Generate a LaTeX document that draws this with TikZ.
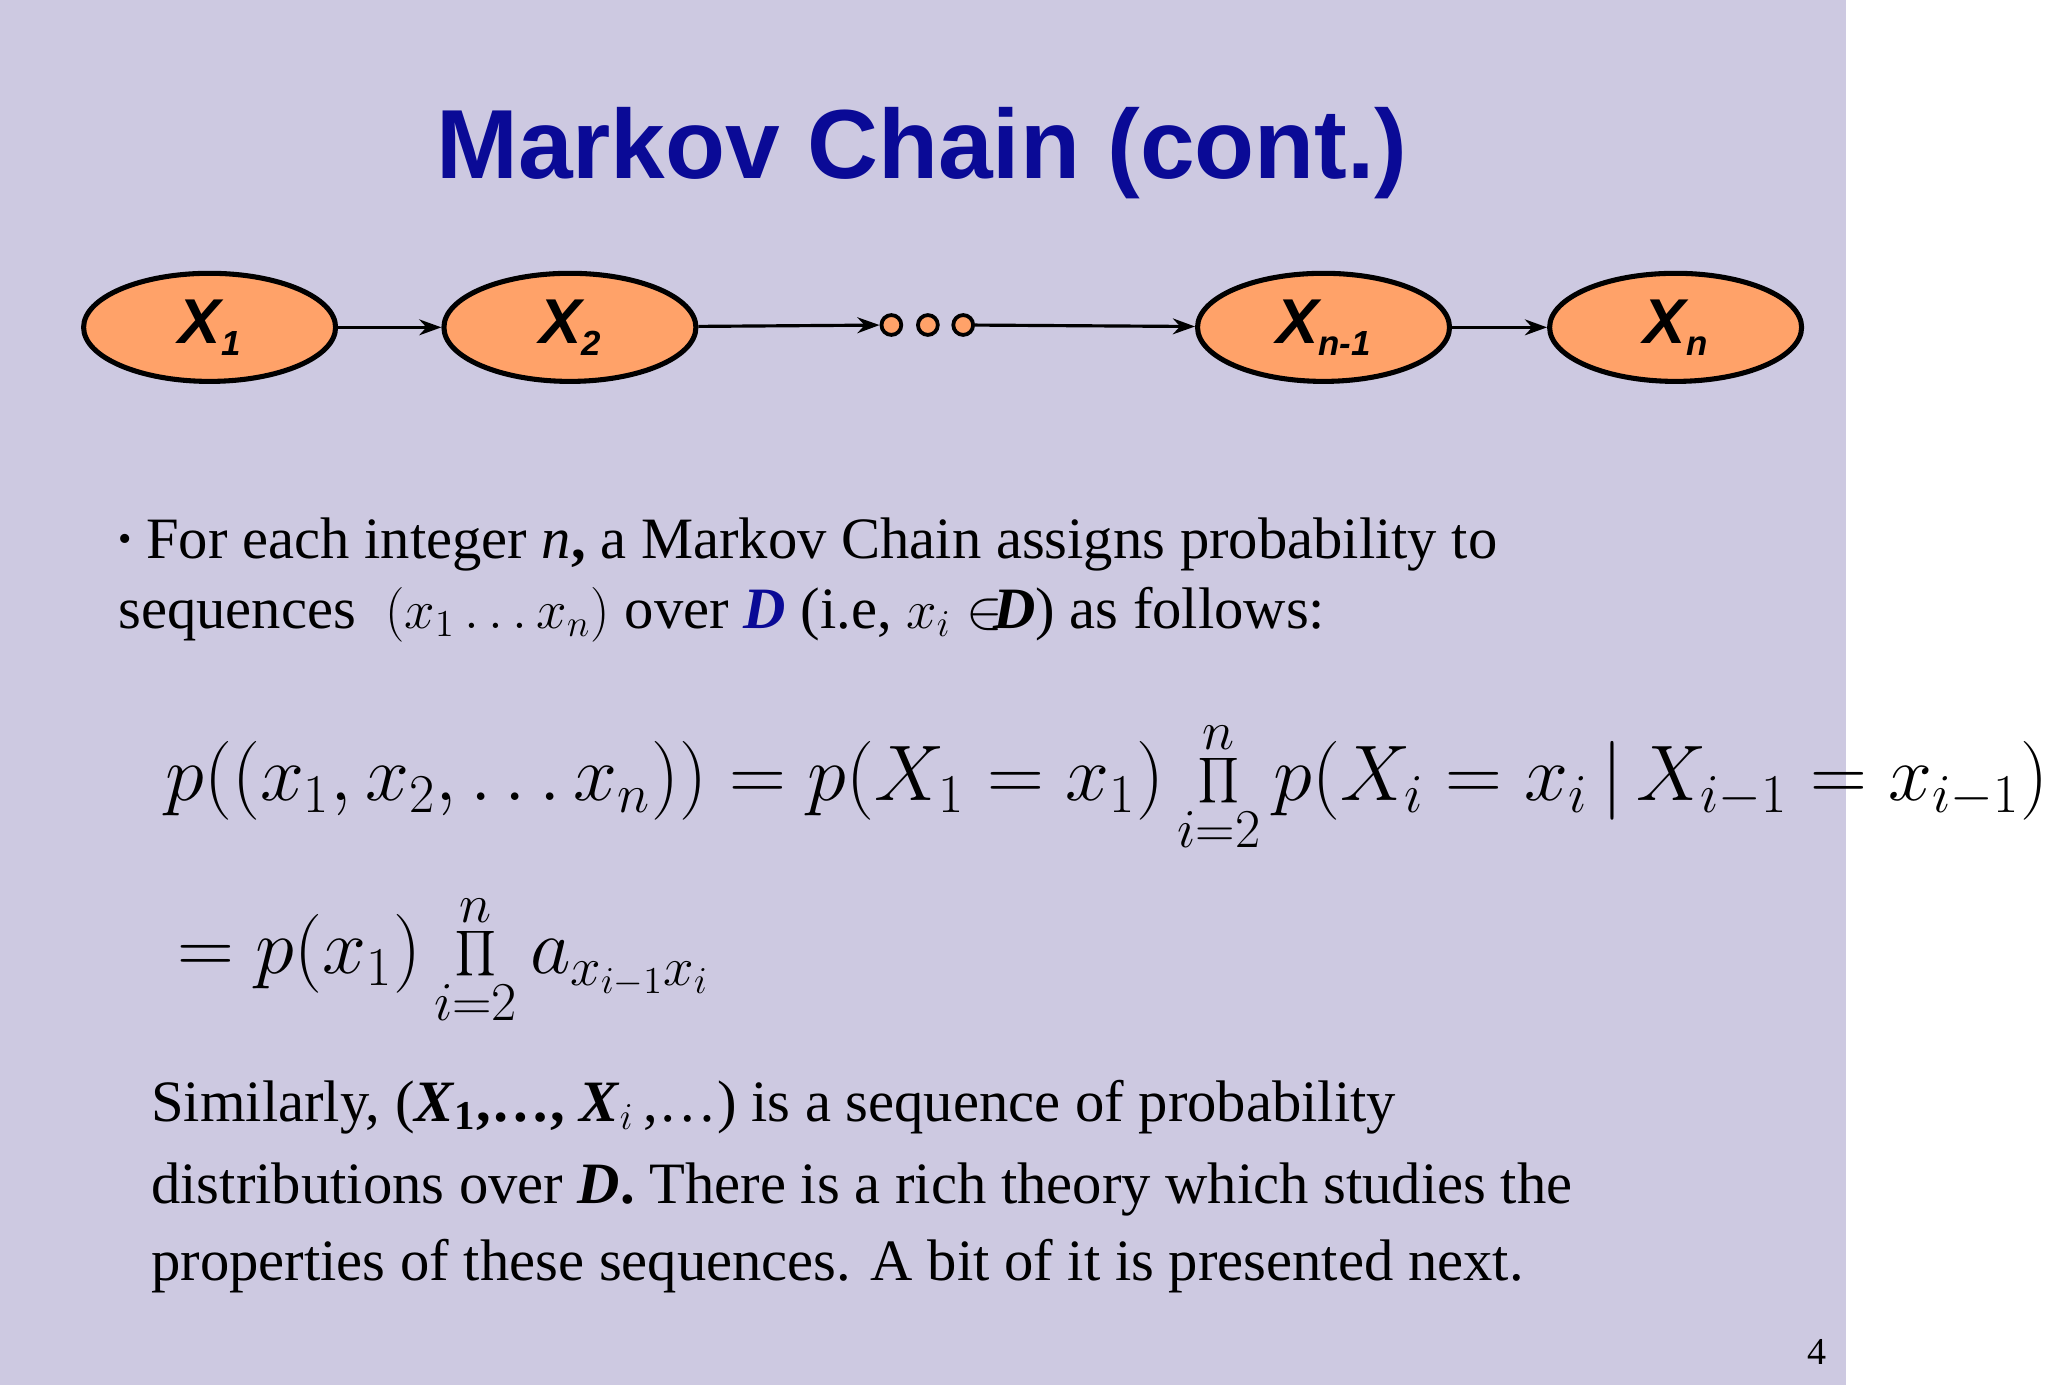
\documentclass[tikz,border=0pt]{standalone}
\usepackage{fontspec}
\setmainfont{Liberation Serif}
\newfontfamily\hsans{Liberation Sans}
\usetikzlibrary{shapes.geometric,arrows.meta}
\definecolor{bg}{RGB}{205,201,225}
\definecolor{ttl}{RGB}{10,10,150}
\definecolor{org}{RGB}{255,162,105}
\tikzset{
 st/.style={ellipse,draw=black,line width=1.6pt,fill=org,minimum width=214*0.013061cm,minimum height=90*0.013061cm,font=\hsans\bfseries\itshape\fontsize{20}{22}\selectfont},
 dt/.style={circle,draw=black,line width=1.2pt,fill=org,minimum size=0.22cm,inner sep=0pt},
 ar/.style={-{Stealth[length=7pt,width=5pt]},line width=1pt},
 txt/.style={anchor=west,inner sep=0pt,font=\fontsize{18.5}{22}\selectfont}
}
\begin{document}
\begin{tikzpicture}[x=0.013061cm,y=-0.013061cm]
\fill[bg] (0,0) rectangle (1568,1176);
\node[font=\hsans\bfseries\fontsize{31}{34}\selectfont,text=ttl] (title) at (783,130) {Markov Chain (cont.)};
\node[st] (a) at (178,278) {X\raisebox{-0.35ex}{\fontsize{11}{12}\selectfont 1}};
\node[st] (b) at (484,278) {X\raisebox{-0.35ex}{\fontsize{11}{12}\selectfont 2}};
\node[st] (c) at (1124,278) {X\raisebox{-0.35ex}{\fontsize{11}{12}\selectfont n-1}};
\node[st] (d) at (1423,278) {X\raisebox{-0.35ex}{\fontsize{11}{12}\selectfont n}};
\node[dt] (d1) at (757,276) {};
\node[dt] (d2) at (788,276) {};
\node[dt] (d3) at (818,276) {};
\draw[ar] (a) -- (b);
\draw[ar] (b) -- (d1);
\draw[ar] (d3) -- (c);
\draw[ar] (c) -- (d);
\node[txt] (l1) at (100,462) {\raisebox{0.25ex}{\fontsize{12}{12}\selectfont\textbullet}\ For each integer \textit{n}\textbf{,} a Markov Chain assigns probability to};
\node[txt] (l2) at (100,522) {sequences \ $(x_1\ldots x_n)$ over \textcolor{ttl}{\textbf{\textit{D}}} (i.e, $x_i\in$\!\textbf{\textit{D}}) as follows:};
\node[anchor=west,inner sep=0pt,font=\fontsize{24}{28}\selectfont] (e1) at (140,668) {$\displaystyle p((x_1,x_2,\ldots x_n)) = p(X_1=x_1)\prod_{i=2}^{n} p(X_i=x_i\,|\,X_{i-1}=x_{i-1})$};
\node[anchor=west,inner sep=0pt,font=\fontsize{24}{28}\selectfont] (e2) at (150,815) {$\displaystyle = p(x_1)\prod_{i=2}^{n} a_{x_{i-1}x_i}$};
\node[txt] (p1) at (128,940) {Similarly, (\textbf{\textit{X}}$_{\mathbf{1}}$\textbf{,…, \textit{X}}$_{i}$\,,…) is a sequence of probability};
\node[txt] (p2) at (128,1010) {distributions over \textbf{\textit{D}.} There is a rich theory which studies the};
\node[txt] (p3) at (128,1075) {properties of these sequences. A bit of it is presented next.};
\node[font=\fontsize{12}{14}\selectfont] (pg) at (1543,1148) {4};
\end{tikzpicture}
\end{document}
